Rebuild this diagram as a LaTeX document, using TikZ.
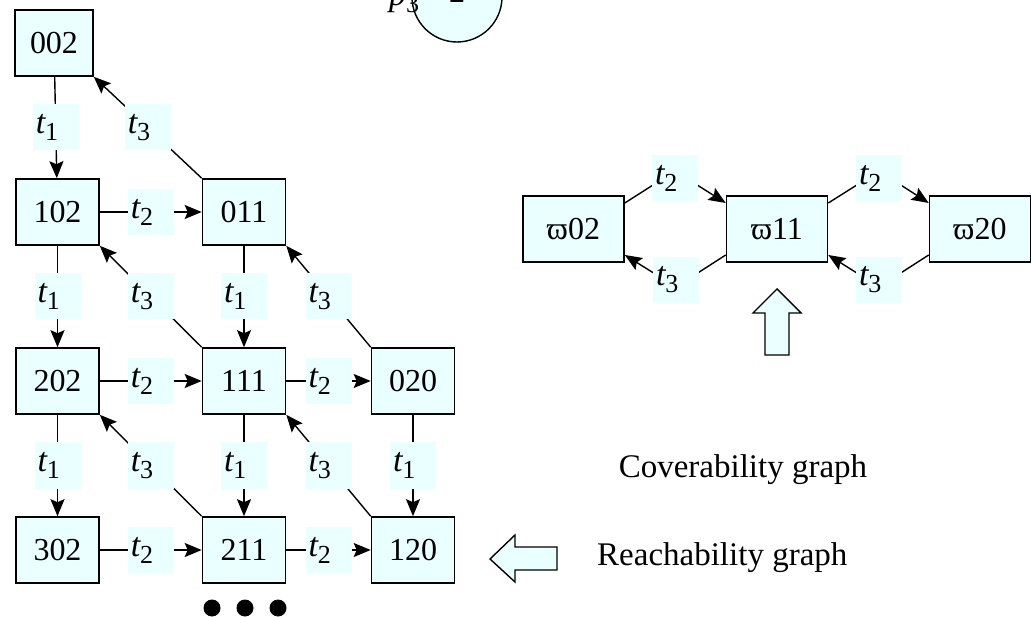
\documentclass[tikz,border=0pt]{standalone}
\usepackage{fontspec}
\setmainfont{Liberation Serif}
\usetikzlibrary{arrows.meta}
\definecolor{cy}{RGB}{234,255,255}
\newcommand\tlab[1]{\makebox[46pt][l]{\hspace{3pt}{\fontsize{34}{34}\selectfont\itshape t}\raisebox{-7pt}{\fontsize{26}{26}\selectfont #1}}}
\newcommand\pbig{\fontsize{32}{32}\selectfont}
\newcommand\pcap{\fontsize{33}{33}\selectfont}
\begin{document}
\begin{tikzpicture}[x=1pt,y=-1pt,
 state/.style={draw, line width=1.6pt, fill=cy, minimum width=83pt, minimum height=66pt, inner sep=0pt, font=\pbig},
 cstate/.style={state, minimum width=101pt},
 lbl/.style={fill=cy, minimum width=46pt, minimum height=46pt, inner sep=0pt},
 arr/.style={line width=1.4pt, -{Stealth[length=17pt,width=14pt,inset=3pt]}},
 hollow/.style={draw, line width=1.4pt, fill=cy, line join=miter},
 caption/.style={font=\pcap, inner sep=0pt}]
\useasboundingbox (0,0) rectangle (1031,617);

% place p3 (cut at top)
\node[draw, circle, fill=cy, line width=1.4pt, minimum size=90pt, inner sep=0pt] (p3) at (457,-3) {};
\node[font=\pbig, anchor=base, inner sep=0pt] (p3tok) at (457,3) {2};
\node[anchor=base west, inner sep=0pt] (p3name) at (389,6) {{\fontsize{34}{34}\selectfont\itshape p}\raisebox{-7pt}{\fontsize{26}{26}\selectfont 3}};

% reachability graph
\node[state, minimum width=78pt] (n002) at (54,43) {002};
\node[state] (n102) at (57.5,212) {102};
\node[state] (n011) at (244,212) {011};
\node[state] (n202) at (57.5,381) {202};
\node[state] (n111) at (244,381) {111};
\node[state] (n020) at (413,381) {020};
\node[state] (n302) at (57.5,550) {302};
\node[state] (n211) at (244,550) {211};
\node[state] (n120) at (413,550) {120};

% t1 (vertical)
\draw[arr] (n002) -- node[lbl] (a1) {\tlab{1}} (n102);
\draw[arr] (n102) -- node[lbl] (a2) {\tlab{1}} (n202);
\draw[arr] (n202) -- node[lbl] (a3) {\tlab{1}} (n302);
\draw[arr] (n011) -- node[lbl] (a4) {\tlab{1}} (n111);
\draw[arr] (n111) -- node[lbl] (a5) {\tlab{1}} (n211);
\draw[arr] (n020) -- node[lbl] (a6) {\tlab{1}} (n120);
% t2 (horizontal)
\draw[arr] (n102) -- node[lbl] (b1) {\tlab{2}} (n011);
\draw[arr] (n202) -- node[lbl] (b2) {\tlab{2}} (n111);
\draw[arr] (n111) -- node[lbl] (b3) {\tlab{2}} (n020);
\draw[arr] (n302) -- node[lbl] (b4) {\tlab{2}} (n211);
\draw[arr] (n211) -- node[lbl] (b5) {\tlab{2}} (n120);
% t3 (diagonal)
\draw[arr] (n011.north west) -- node[lbl] (c1) {\tlab{3}} (n002.south east);
\draw[arr] (n111.north west) -- node[lbl] (c2) {\tlab{3}} (n102.south east);
\draw[arr] (n211.north west) -- node[lbl] (c3) {\tlab{3}} (n202.south east);
\draw[arr] (n020.north west) -- node[lbl] (c4) {\tlab{3}} (n011.south east);
\draw[arr] (n120.north west) -- node[lbl] (c5) {\tlab{3}} (n111.south east);

% dots
\fill (212,608) circle (8.5pt);
\fill (245,608) circle (8.5pt);
\fill (278,608) circle (8.5pt);

% coverability graph
\node[cstate] (w02) at (573.5,229) {ϖ02};
\node[cstate] (w11) at (777,229) {ϖ11};
\node[cstate] (w20) at (980,229) {ϖ20};
\coordinate (k1) at (675,171);
\coordinate (k2) at (676,287);
\coordinate (k3) at (879,171);
\coordinate (k4) at (879,287);
\draw[arr] ([yshift=26pt]w02.east) -- (k1) -- ([yshift=26pt]w11.west);
\draw[arr] ([yshift=-26pt]w11.west) -- (k2) -- ([yshift=-26pt]w02.east);
\draw[arr] ([yshift=26pt]w11.east) -- (k3) -- ([yshift=26pt]w20.west);
\draw[arr] ([yshift=-26pt]w20.west) -- (k4) -- ([yshift=-26pt]w11.east);
\node[lbl] (d1) at (675,178) {\tlab{2}};
\node[lbl] (d2) at (676,280) {\tlab{3}};
\node[lbl] (d3) at (879,178) {\tlab{2}};
\node[lbl] (d4) at (879,280) {\tlab{3}};

% hollow arrows
\draw[hollow] (777,289) -- (801,313) -- (789,313) -- (789,355) -- (765,355) -- (765,313) -- (753,313) -- cycle;
\draw[hollow] (490,559) -- (515,535) -- (515,547) -- (557,547) -- (557,570) -- (515,570) -- (515,582) -- cycle;

% captions
\node[caption, anchor=base] (capc) at (743,478) {Coverability graph};
\node[caption, anchor=base west] (capr) at (597,565) {Reachability graph};
\end{tikzpicture}
\end{document}
